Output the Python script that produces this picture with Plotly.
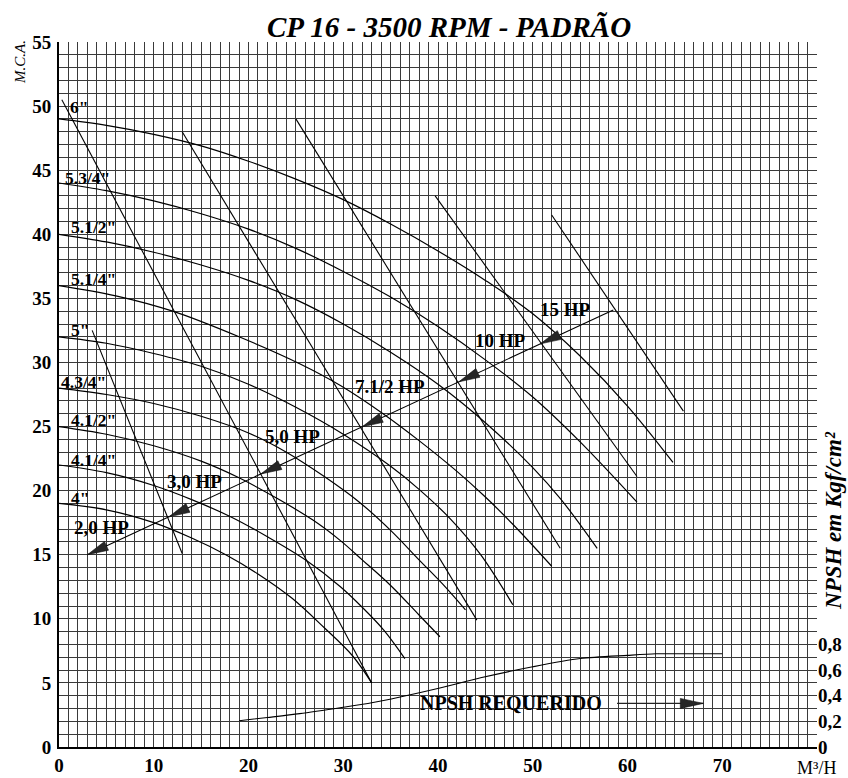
import numpy as np
import plotly.graph_objects as go

# ---------------------------------------------------------------------------
# Head curves per impeller diameter  (Q in m³/h, H in m.c.a.)
# ---------------------------------------------------------------------------
q_6 = [0, 5, 10, 15, 20, 25, 30, 35, 40, 45, 50, 55, 60, 64.8]
h_6 = [49.0, 48.5, 47.8, 46.9, 45.7, 44.3, 42.7, 40.8, 38.7, 36.4, 33.8, 30.5, 26.6, 22.2]

q_5_34 = [0, 5, 10, 15, 20, 25, 30, 35, 40, 45, 50, 55, 61]
h_5_34 = [44.0, 43.4, 42.6, 41.6, 40.4, 38.9, 37.1, 35.1, 32.8, 30.2, 27.3, 23.8, 19.1]

q_5_12 = [0, 5, 10, 15, 20, 25, 30, 35, 40, 45, 50, 53, 56.8]
h_5_12 = [40.0, 39.4, 38.6, 37.6, 36.4, 34.9, 33.0, 30.8, 28.3, 25.3, 21.8, 19.3, 15.5]

q_5_14 = [0, 6, 12, 19, 25.4, 29.7, 34.2, 38, 42, 45, 48, 52]
h_5_14 = [36.0, 35.2, 34.0, 32.0, 29.9, 28.2, 26.0, 23.9, 21.5, 19.5, 17.3, 14.1]

q_5 = [0, 5, 10, 15, 20, 25, 30, 35, 38, 41.3, 44.5, 47.9]
h_5 = [32.0, 31.5, 30.7, 29.7, 28.3, 26.5, 24.4, 21.9, 20.1, 17.8, 15.0, 11.1]

q_4_34 = [0, 5, 10, 15, 20, 24, 28, 31.7, 35, 38, 40.5, 42.9]
h_4_34 = [28.0, 27.5, 26.8, 25.8, 24.5, 23.0, 21.1, 19.1, 16.9, 14.6, 12.7, 10.7]

q_4_12 = [0, 5, 10, 15, 19, 23, 26.8, 29.7, 32, 35, 38, 40.2]
h_4_12 = [25.0, 24.4, 23.5, 22.3, 21.0, 19.4, 17.7, 16.1, 14.6, 12.6, 10.3, 8.6]

q_4_14 = [0, 5, 10, 14, 18, 22, 26, 29.7, 32, 34.3, 36.5]
h_4_14 = [22.0, 21.4, 20.4, 19.3, 18.0, 16.4, 14.6, 12.5, 10.9, 9.1, 6.9]

q_4 = [0, 5, 10, 14, 17.6, 21, 24.6, 28, 31, 33]
h_4 = [19.0, 18.5, 17.5, 16.3, 15.0, 13.5, 11.6, 9.3, 7.1, 5.0]

diameter_labels = ['6"', '5.3/4"', '5.1/2"', '5.1/4"', '5"',
                   '4.3/4"', '4.1/2"', '4.1/4"', '4"']
diameter_label_q = [0.9, 0.4, 1.05, 1.05, 1.05, 0.0, 1.05, 1.05, 1.05]
diameter_label_h = [49.9, 44.4, 40.6, 36.5, 32.5, 28.5, 25.5, 22.4, 19.4]

# ---------------------------------------------------------------------------
# Motor power limit lines (straight segments)
# ---------------------------------------------------------------------------
power_q_start = [3.5, 0.3, 13.0, 25.0, 39.7, 52.0]
power_h_start = [32.5, 50.5, 48.0, 49.0, 43.0, 41.5]
power_q_end = [13.0, 33.0, 44.1, 52.9, 61.0, 65.9]
power_h_end = [15.1, 5.0, 9.9, 15.5, 21.1, 26.2]

# Diagonal power scale with arrowheads
hp_line_q = [3.0, 58.5]
hp_line_h = [15.0, 34.1]
hp_labels = ["2,0 HP", "3,0 HP", "5,0 HP", "7.1/2 HP", "10 HP", "15 HP"]
hp_tip_q = [3.0, 11.6, 21.3, 32.0, 42.2, 50.8]
hp_label_q = [1.4, 11.2, 21.5, 31.0, 43.7, 50.6]
hp_label_h = [17.1, 20.7, 24.2, 28.1, 31.7, 34.1]

# ---------------------------------------------------------------------------
# NPSH required (kgf/cm²)
# ---------------------------------------------------------------------------
npsh_q = [19, 22, 25.4, 30, 33, 36, 40.2, 44.5, 50, 55, 60, 63, 66, 70]
npsh_val = [0.205, 0.23, 0.26, 0.31, 0.345, 0.39, 0.46, 0.54, 0.626, 0.69,
            0.715, 0.727, 0.727, 0.727]
npsh_ticks = [0, 0.2, 0.4, 0.6, 0.8]
npsh_tick_text = ["0", "0,2", "0,4", "0,6", "0,8"]
npsh_arrow_q = [58.9, 68.0]
npsh_arrow_h = [3.4, 3.4]
npsh_label_q = 37.9
npsh_label_h = 3.4

x_ticks = [0, 10, 20, 30, 40, 50, 60, 70]
y_ticks = [0, 5, 10, 15, 20, 25, 30, 35, 40, 45, 50, 55]

# ---------------------------------------------------------------------------
W, H = 848, 778
M_L, M_R, M_T, M_B = 59, 31, 42, 31
Q_MAX, H_MAX = 80, 55
PX_Q = (W - M_L - M_R) / Q_MAX     # pixels per m³/h
PX_H = (H - M_T - M_B) / H_MAX     # pixels per metre

FONT = "Liberation Serif"
INK = "#000000"

fig = go.Figure()

curves = [(q_6, h_6), (q_5_34, h_5_34), (q_5_12, h_5_12), (q_5_14, h_5_14),
          (q_5, h_5), (q_4_34, h_4_34), (q_4_12, h_4_12), (q_4_14, h_4_14),
          (q_4, h_4)]
for q, h in curves:
    fig.add_trace(go.Scatter(x=q, y=h, mode="lines",
                             line=dict(color=INK, width=1.2, shape="spline",
                                       smoothing=1.0),
                             hoverinfo="skip", showlegend=False))

for qs, hs, qe, he in zip(power_q_start, power_h_start, power_q_end, power_h_end):
    fig.add_trace(go.Scatter(x=[qs, qe], y=[hs, he], mode="lines",
                             line=dict(color=INK, width=1.1),
                             hoverinfo="skip", showlegend=False))

fig.add_trace(go.Scatter(x=hp_line_q, y=hp_line_h, mode="lines",
                         line=dict(color=INK, width=1.1),
                         hoverinfo="skip", showlegend=False))


def arrow_head(tip_q, tip_h, dir_q, dir_h, length_px, half_w_px):
    """Filled triangle whose tip sits at (tip_q, tip_h), pointing along dir."""
    dx, dy = dir_q * PX_Q, dir_h * PX_H
    n = np.hypot(dx, dy)
    ux, uy = dx / n, dy / n
    bx, by = -ux * length_px, -uy * length_px
    px_, py_ = -uy * half_w_px, ux * half_w_px
    xs = [tip_q, tip_q + (bx + px_) / PX_Q, tip_q + (bx - px_) / PX_Q, tip_q]
    ys = [tip_h, tip_h + (by + py_) / PX_H, tip_h + (by - py_) / PX_H, tip_h]
    return go.Scatter(x=xs, y=ys, mode="lines", fill="toself",
                      fillcolor="#262626", line=dict(color="#111", width=0.6),
                      hoverinfo="skip", showlegend=False)


dir_q = hp_line_q[0] - hp_line_q[1]
dir_h = hp_line_h[0] - hp_line_h[1]
for tq in hp_tip_q:
    th = float(np.interp(tq, hp_line_q, hp_line_h))
    fig.add_trace(arrow_head(tq, th, dir_q, dir_h, 21, 4.8))

# NPSH curve on the secondary scale
fig.add_trace(go.Scatter(x=npsh_q, y=npsh_val, yaxis="y2", mode="lines",
                         line=dict(color=INK, width=1.1, shape="spline",
                                   smoothing=0.8),
                         hoverinfo="skip", showlegend=False))

fig.add_trace(go.Scatter(x=npsh_arrow_q, y=npsh_arrow_h, mode="lines",
                         line=dict(color="#222", width=1.1),
                         hoverinfo="skip", showlegend=False))
fig.add_trace(arrow_head(npsh_arrow_q[1], npsh_arrow_h[1], 1, 0, 23, 5))

annotations = []
for txt, q, h in zip(diameter_labels, diameter_label_q, diameter_label_h):
    annotations.append(dict(x=q, y=h, xref="x", yref="y", text=txt,
                            showarrow=False, xanchor="left", yanchor="middle",
                            font=dict(family=FONT, size=17.5, color=INK,
                                      weight="bold")))
for txt, q, h in zip(hp_labels, hp_label_q, hp_label_h):
    annotations.append(dict(x=q, y=h, xref="x", yref="y", text=txt,
                            showarrow=False, xanchor="left", yanchor="middle",
                            font=dict(family=FONT, size=19, color=INK,
                                      weight="bold")))
annotations.append(dict(x=npsh_label_q, y=npsh_label_h, xref="x", yref="y",
                        text="NPSH REQUERIDO", showarrow=False,
                        xanchor="left", yanchor="middle",
                        font=dict(family=FONT, size=20, color=INK,
                                  weight="bold")))

# Title and axis captions
annotations.append(dict(x=0.514, y=1.021, xref="paper", yref="paper",
                        text="CP 16 - 3500 RPM - PADRÃO", showarrow=False,
                        xanchor="center", yanchor="middle",
                        font=dict(family=FONT, size=29, color=INK,
                                  weight="bold", style="italic")))
annotations.append(dict(x=-0.0515, y=0.9716, xref="paper", yref="paper",
                        text="M.C.A.", showarrow=False, textangle=-90,
                        xanchor="center", yanchor="middle",
                        font=dict(family=FONT, size=15, color=INK,
                                  style="italic")))
annotations.append(dict(x=1.0224, y=0.322, xref="paper", yref="paper",
                        text="NPSH em Kgf/cm²", showarrow=False, textangle=-90,
                        xanchor="center", yanchor="middle",
                        font=dict(family=FONT, size=23, color=INK,
                                  weight="bold", style="italic")))
annotations.append(dict(x=0.9987, y=-0.0298, xref="paper", yref="paper",
                        text="M³/H", showarrow=False,
                        xanchor="center", yanchor="middle",
                        font=dict(family=FONT, size=18, color=INK)))

GRID = "#3a3a3a"
CLEAR = "rgba(0,0,0,0)"
TICK_FONT = dict(family=FONT, size=19, color=INK, weight="bold")
fig.update_layout(
    width=W, height=H,
    margin=dict(l=M_L, r=M_R, t=M_T, b=M_B, pad=0, autoexpand=False),
    paper_bgcolor="white", plot_bgcolor="white",
    font=dict(family=FONT, color=INK),
    showlegend=False,
    annotations=annotations,
    xaxis=dict(range=[0, Q_MAX], tickvals=x_ticks, showgrid=True,
               gridcolor=GRID, gridwidth=1, automargin=False,
               minor=dict(dtick=1, showgrid=True, gridcolor=GRID, gridwidth=1),
               showline=True, linecolor=INK, linewidth=2, zeroline=False,
               ticks="", tickfont=TICK_FONT),
    yaxis=dict(range=[0, H_MAX], tickvals=y_ticks, showgrid=True,
               gridcolor=GRID, gridwidth=1, automargin=False,
               minor=dict(dtick=1, showgrid=True, gridcolor=GRID, gridwidth=1),
               showline=True, linecolor=INK, linewidth=2, zeroline=False,
               ticks="outside", ticklen=2, tickcolor=CLEAR,
               tickfont=TICK_FONT),
    yaxis2=dict(range=[0, H_MAX / 10], overlaying="y", side="right",
                tickvals=npsh_ticks, ticktext=npsh_tick_text, showgrid=False,
                zeroline=False, showline=False, automargin=False,
                ticks="", tickfont=TICK_FONT),
)

fig.write_html("out.html")
